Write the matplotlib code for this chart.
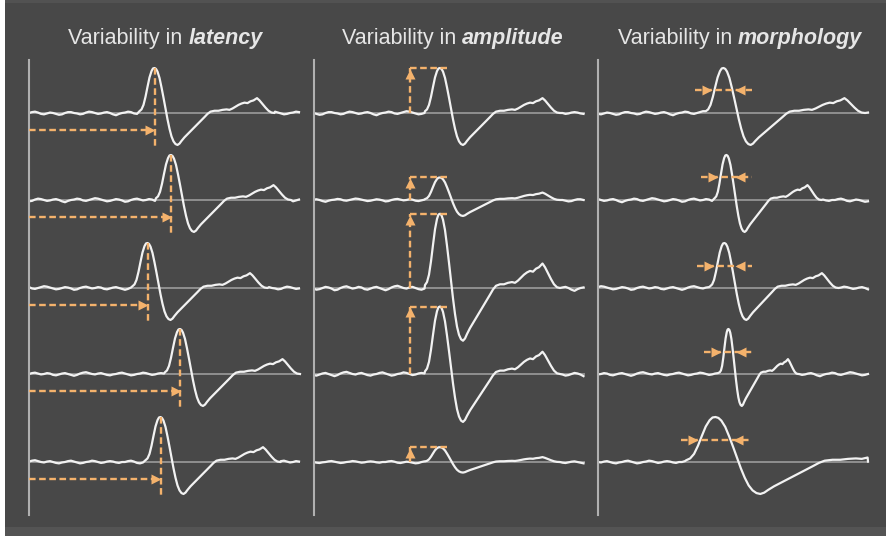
import numpy as np
import matplotlib
matplotlib.use("Agg")
import matplotlib.pyplot as plt
from matplotlib.patches import Rectangle

W_PX, H_PX, DPI = 886, 536, 100

# ---------------- data ----------------
TITLE_PLAIN = "Variability in"
TITLE_BOLD = ["latency", "amplitude", "morphology"]

# template evoked waveform: time relative to main peak (ms), amplitude (peak = 1)
TPL_T = [-30, -26, -22, -18, -14, -10, -6, -3, 0, 3, 6, 10, 14, 18, 22, 26, 30, 34,
         38, 42, 46, 50, 54, 60, 68, 76, 84, 92, 100, 106, 112, 120, 128, 136, 144,
         150, 156, 162, 168, 174, 180, 186, 192, 198, 205, 210, 216, 222, 228, 234, 240]
TPL_V = [0.04, 0.08, 0.18, 0.36, 0.58, 0.79, 0.93, 0.99, 1.00, 0.98, 0.92, 0.78, 0.57,
         0.34, 0.10, -0.14, -0.35, -0.52, -0.63, -0.69, -0.71, -0.68, -0.62, -0.54,
         -0.45, -0.36, -0.27, -0.18, -0.09, -0.02, 0.03, 0.05, 0.05, 0.07, 0.08, 0.07,
         0.10, 0.14, 0.18, 0.21, 0.23, 0.22, 0.26, 0.28, 0.33, 0.28, 0.20, 0.12, 0.05,
         0.01, 0.00]

# background wiggle of the single trials (amplitude units), sampled every 6 ms
NOISE = [0.00, 0.02, 0.03, 0.01, -0.02, -0.03, -0.01, 0.01, 0.00, -0.02, -0.04, -0.03,
         0.00, 0.02, 0.02, 0.00, -0.01, -0.03, -0.02, 0.01, 0.03, 0.02, 0.00, -0.02,
         -0.01, 0.01, 0.02, 0.00, -0.03, -0.05, -0.02, 0.00, 0.01, 0.03, 0.02, -0.01,
         -0.02, 0.00, 0.02, 0.04, 0.03, 0.01, -0.01, -0.03, -0.02, 0.00, 0.02, 0.01,
         -0.01, -0.04, -0.03, 0.00, 0.02, 0.03, 0.01, -0.01, 0.00, 0.02, 0.01, -0.02,
         -0.03, -0.01, 0.01, 0.02, 0.00, -0.02, -0.04, -0.02, 0.01, 0.03, 0.04, 0.02,
         0.00, -0.01, 0.01, 0.02, 0.00, -0.02, -0.03, -0.01, 0.00, 0.02, 0.03, 0.01,
         -0.01, -0.03, -0.02, 0.00, 0.01, 0.03, 0.02, 0.00, -0.02, -0.01, 0.01, 0.02,
         0.01, -0.01, -0.02, 0.00]
NOISE_STEP = 6
T_END = 542

# single-trial parameters, 5 trials per panel
LAT_LATENCY = [251, 284, 237, 302, 263]
LAT_AMP = [1.0, 1.0, 1.0, 1.0, 1.0]
LAT_WIDTH = [1.0, 1.0, 1.0, 1.0, 1.0]

AMP_LATENCY = [253, 253, 253, 253, 253]
AMP_AMP = [1.0, 0.5, 1.65, 1.5, 0.33]
AMP_WIDTH = [1.0, 1.0, 1.0, 1.0, 1.0]

MOR_LATENCY = [251, 257, 253, 261, 235]
MOR_AMP = [1.0, 1.0, 1.0, 1.0, 1.0]
MOR_WIDTH = [1.18, 0.79, 0.95, 0.58, 1.95]

NOISE_START = [[0, 17, 34, 51, 68], [8, 25, 42, 59, 76], [4, 21, 38, 55, 72]]

ROW_OFFSET = [0.0, -1.933, -3.889, -5.8, -7.756]

# ---------------- style ----------------
BG = "#484848"
WHITE = "#f2f2f2"
AXIS_C = "#b0b0b0"
BASE_C = "#9c9c9c"
ORANGE = "#f4b26c"
DASH = (0, (2.8, 1.5))
OLW = 1.7
MS = 6.5
TPL_HW = 15  # half-width at half maximum of the template peak (ms)

plt.rcParams["font.family"] = ["Liberation Sans", "DejaVu Sans"]

fig = plt.figure(figsize=(W_PX / DPI, H_PX / DPI), dpi=DPI, facecolor=BG)
fig.patches.append(Rectangle((0, 0), 5 / W_PX, 1, transform=fig.transFigure,
                             facecolor="white", edgecolor="none", zorder=0))
fig.patches.append(Rectangle((5 / W_PX, 0), 1, 9 / H_PX, transform=fig.transFigure,
                             facecolor="#545454", edgecolor="none", zorder=0))
fig.patches.append(Rectangle((5 / W_PX, 1 - 3 / H_PX), 1, 3 / H_PX, transform=fig.transFigure,
                             facecolor="#525252", edgecolor="none", zorder=0))

AX_LEFT = [29, 313.5, 598]
AX_TOP, AX_BOT = 60, 515
AX_W = 276
PX_PER_UNIT = 45.0
Y_TOP = (113 - AX_TOP) / PX_PER_UNIT
Y_BOT = -(AX_BOT - 113) / PX_PER_UNIT


def trace(lat, amp, wid, k, ns):
    t_erp = lat + wid * np.array(TPL_T, dtype=float)
    v_erp = amp * np.array(TPL_V, dtype=float)
    keep = t_erp <= T_END
    t_erp, v_erp = t_erp[keep], v_erp[keep]
    tn = np.arange(0, T_END + 1, NOISE_STEP, dtype=float)
    vn = ns * np.array([NOISE[(k + i) % len(NOISE)] for i in range(len(tn))])
    pre = tn < t_erp[0]
    post = tn > t_erp[-1]
    t = np.concatenate([tn[pre], t_erp, tn[post]])
    v = np.concatenate([vn[pre], v_erp, vn[post]])
    return t, v


panels = [(LAT_LATENCY, LAT_AMP, LAT_WIDTH),
          (AMP_LATENCY, AMP_AMP, AMP_WIDTH),
          (MOR_LATENCY, MOR_AMP, MOR_WIDTH)]

for p, (lats, amps, wids) in enumerate(panels):
    ax = fig.add_axes([AX_LEFT[p] / W_PX, (H_PX - AX_BOT) / H_PX,
                       AX_W / W_PX, (AX_BOT - AX_TOP) / H_PX])
    ax.set_facecolor("none")
    ax.set_xlim(0, AX_W * 2)
    ax.set_ylim(Y_BOT, Y_TOP)
    for s in ["top", "right", "bottom"]:
        ax.spines[s].set_visible(False)
    ax.spines["left"].set_color(AXIS_C)
    ax.spines["left"].set_linewidth(1.5)
    ax.set_xticks([])
    ax.set_yticks([])

    for i in range(5):
        y0 = ROW_OFFSET[i]
        lat, amp, wid = lats[i], amps[i], wids[i]
        ns = 0.6 + 0.4 * amp
        t, v = trace(lat, amp, wid, NOISE_START[p][i], ns)
        ax.plot([0, T_END], [y0, y0], color=BASE_C, lw=1.2, zorder=1,
                solid_capstyle="butt")
        ax.plot(t, v + y0, color=WHITE, lw=1.6, zorder=2, solid_joinstyle="round")

        if p == 0:
            ya = y0 - 0.38
            ax.plot([0, lat - 10], [ya, ya], color=ORANGE, lw=OLW, ls=DASH, zorder=3)
            ax.plot([lat - 9], [ya], marker=">", ms=MS, color=ORANGE, mec="none", zorder=3)
            ax.plot([lat, lat], [y0 + amp, y0 - 0.73], color=ORANGE, lw=OLW, ls=DASH, zorder=3)
        elif p == 1:
            xv = 193
            ax.plot([xv, xv], [y0, y0 + amp], color=ORANGE, lw=OLW, ls=DASH, zorder=3)
            ax.plot([xv, 267], [y0 + amp, y0 + amp], color=ORANGE, lw=OLW, ls=DASH, zorder=3)
            ax.plot([xv], [y0 + amp - 0.13], marker="^", ms=MS, color=ORANGE, mec="none", zorder=3)
        else:
            ya = y0 + 0.5 * amp
            hw = TPL_HW * wid
            xl = lat - hw - 16
            xr = lat + hw + 16
            ax.plot([xl - 24, xr + 24], [ya, ya], color=ORANGE, lw=OLW, ls=DASH, zorder=3)
            ax.plot([xl], [ya], marker=">", ms=MS, color=ORANGE, mec="none", zorder=3)
            ax.plot([xr], [ya], marker="<", ms=MS, color=ORANGE, mec="none", zorder=3)

# titles: plain part + bold italic part, centred as a whole
TITLE_CX = [165.5, 453, 740]
TITLE_BASE = 44
FS = 15.5
renderer = fig.canvas.get_renderer()
space_px = 0.278 * FS * DPI / 72
for p in range(3):
    ty = 1 - TITLE_BASE / H_PX
    t1 = fig.text(0, ty, TITLE_PLAIN, fontsize=FS, color="#e6e6e6", va="baseline", ha="left")
    t2 = fig.text(0, ty, TITLE_BOLD[p], fontsize=FS, color="#e6e6e6", va="baseline", ha="left",
                  fontweight="bold", fontstyle="italic")
    w1 = t1.get_window_extent(renderer).width
    w2 = t2.get_window_extent(renderer).width
    x0 = TITLE_CX[p] - (w1 + space_px + w2) / 2
    t1.set_x(x0 / W_PX)
    t2.set_x((x0 + w1 + space_px) / W_PX)

fig.savefig("out.png", dpi=DPI, facecolor=BG)
